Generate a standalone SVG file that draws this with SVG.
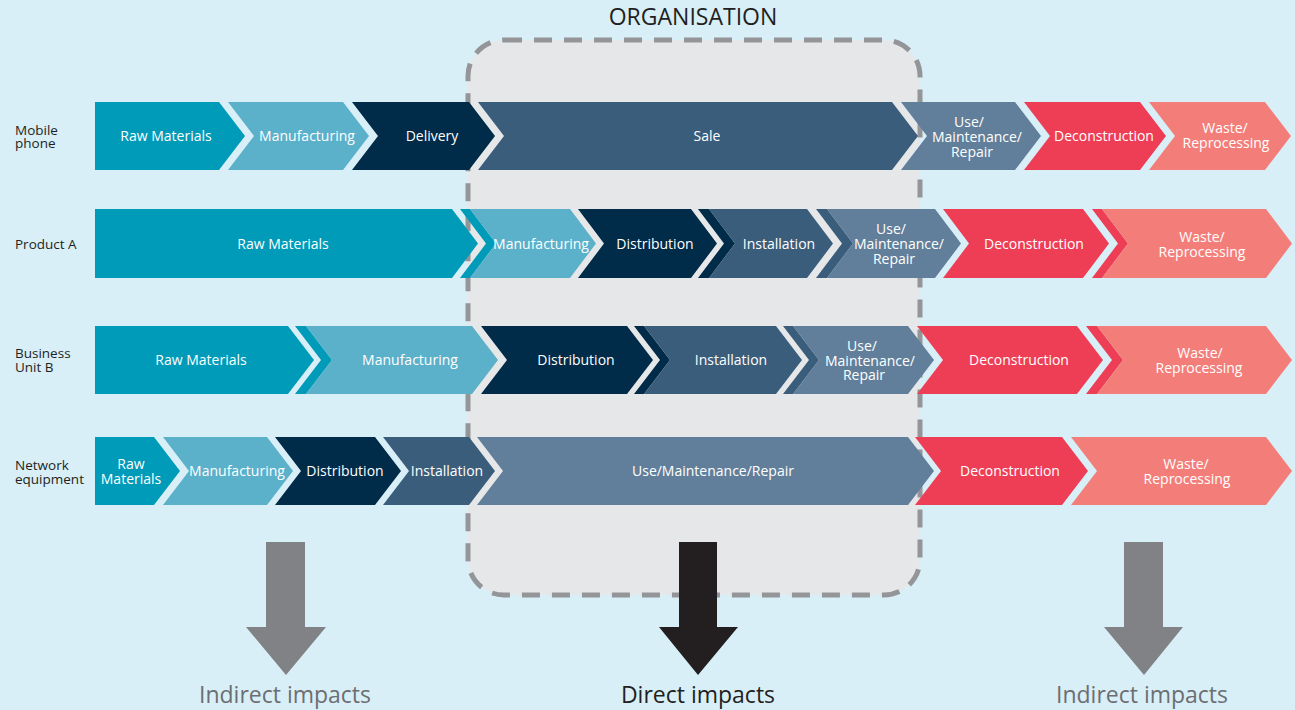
<svg xmlns="http://www.w3.org/2000/svg" width="1295" height="710" viewBox="0 0 1295 710">
  <style>
    .bg { fill: #D8EFF8; }
    .org { fill: #E6E7E8; stroke: #939598; stroke-width: 5; stroke-dasharray: 18 12; }
    .teal { fill: #009BB9; }
    .lblue { fill: #5BB0CA; }
    .navy { fill: #002B49; }
    .slate { fill: #3A5D7C; }
    .gblue { fill: #617F9B; }
    .red { fill: #EE3E56; }
    .salmon { fill: #F37E79; }
    .t { font-family: "Open Sans", "Liberation Sans", sans-serif; font-size: 14px; fill: #FFFFFF; text-anchor: middle; }
    .row { font-family: "Open Sans", "Liberation Sans", sans-serif; font-size: 13.5px; fill: #231F20; }
    .title { font-family: "Open Sans", "Liberation Sans", sans-serif; font-size: 23px; fill: #231F20; text-anchor: middle; }
    .ind { font-family: "Open Sans", "Liberation Sans", sans-serif; font-size: 23px; fill: #6D6E71; text-anchor: middle; }
    .dir { font-family: "Open Sans", "Liberation Sans", sans-serif; font-size: 23px; fill: #231F20; text-anchor: middle; }
    .arrow-ind { fill: #808285; }
    .arrow-dir { fill: #231F20; }
  </style>

  <rect class="bg" x="0" y="0" width="1295" height="710"/>

  <!-- organisation boundary -->
  <g id="organisation">
    <rect class="org" x="468" y="40" width="452" height="555" rx="36" ry="36"/>
    <text class="title" x="693" y="25">ORGANISATION</text>
  </g>

  <!-- row labels -->
  <g id="row-labels">
    <text class="row" x="15" y="135">Mobile</text>
    <text class="row" x="15" y="148">phone</text>
    <text class="row" x="15" y="249">Product A</text>
    <text class="row" x="15" y="358">Business</text>
    <text class="row" x="15" y="372">Unit B</text>
    <text class="row" x="15" y="470">Network</text>
    <text class="row" x="15" y="484">equipment</text>
  </g>

  <!-- Row 1: Mobile phone (y 102-170, mid 136) -->
  <g id="mobile-raw"><polygon class="teal" points="95,102 219,102 245,136 219,170 95,170"/><text class="t" x="166" y="141">Raw Materials</text></g>
  <g id="mobile-manufacturing"><polygon class="lblue" points="228,102 343,102 369,136 343,170 228,170 254,136"/><text class="t" x="307" y="141">Manufacturing</text></g>
  <g id="mobile-delivery"><polygon class="navy" points="352,102 469,102 495,136 469,170 352,170 378,136"/><text class="t" x="432" y="141">Delivery</text></g>
  <g id="mobile-sale"><polygon class="slate" points="478,102 892,102 918,136 892,170 478,170 504,136"/><text class="t" x="707" y="141">Sale</text></g>
  <g id="mobile-use"><polygon class="gblue" points="901,102 1015,102 1041,136 1015,170 901,170 927,136"/><text class="t" x="969" y="127">Use/</text><text class="t" x="977" y="142">Maintenance/</text><text class="t" x="972" y="157">Repair</text></g>
  <g id="mobile-deconstruction"><polygon class="red" points="1024,102 1140,102 1166,136 1140,170 1024,170 1050,136"/><text class="t" x="1104" y="141">Deconstruction</text></g>
  <g id="mobile-waste"><polygon class="salmon" points="1149,102 1265,102 1291,136 1265,170 1149,170 1175,136"/><text class="t" x="1225" y="133">Waste/</text><text class="t" x="1226" y="148">Reprocessing</text></g>

  <!-- Row 2: Product A (y 209-278, mid 243.5) -->
  <g id="producta-raw"><polygon class="teal" points="95,209 452,209 478,243.5 452,278 95,278"/><text class="t" x="283" y="249">Raw Materials</text></g>
  <g id="producta-manufacturing"><polygon class="teal" points="460,209 470,209 496,243.5 470,278 460,278 486,243.5"/><polygon class="lblue" points="470,209 570,209 596,243.5 570,278 470,278 496,243.5"/><text class="t" x="541" y="249">Manufacturing</text></g>
  <g id="producta-distribution"><polygon class="navy" points="578,209 691,209 717,243.5 691,278 578,278 604,243.5"/><text class="t" x="655" y="249">Distribution</text></g>
  <g id="producta-installation"><polygon class="navy" points="698,209 709,209 735,243.5 709,278 698,278 724,243.5"/><polygon class="slate" points="709,209 807,209 833,243.5 807,278 709,278 735,243.5"/><text class="t" x="779" y="249">Installation</text></g>
  <g id="producta-use"><polygon class="slate" points="816,209 827,209 853,243.5 827,278 816,278 842,243.5"/><polygon class="gblue" points="827,209 935,209 961,243.5 935,278 827,278 853,243.5"/><text class="t" x="891" y="234">Use/</text><text class="t" x="899" y="249">Maintenance/</text><text class="t" x="894" y="264">Repair</text></g>
  <g id="producta-deconstruction"><polygon class="red" points="943,209 1083,209 1109,243.5 1083,278 943,278 969,243.5"/><text class="t" x="1034" y="249">Deconstruction</text></g>
  <g id="producta-waste"><polygon class="red" points="1092,209 1102,209 1128,243.5 1102,278 1092,278 1118,243.5"/><polygon class="salmon" points="1102,209 1266,209 1292,243.5 1266,278 1102,278 1128,243.5"/><text class="t" x="1202" y="242">Waste/</text><text class="t" x="1202" y="257">Reprocessing</text></g>

  <!-- Row 3: Business Unit B (y 326-394, mid 360) -->
  <g id="unitb-raw"><polygon class="teal" points="95,326 288,326 314,360 288,394 95,394"/><text class="t" x="201" y="365">Raw Materials</text></g>
  <g id="unitb-manufacturing"><polygon class="teal" points="295,326 306,326 332,360 306,394 295,394 321,360"/><polygon class="lblue" points="306,326 472,326 498,360 472,394 306,394 332,360"/><text class="t" x="410" y="365">Manufacturing</text></g>
  <g id="unitb-distribution"><polygon class="navy" points="481,326 627,326 653,360 627,394 481,394 507,360"/><text class="t" x="576" y="365">Distribution</text></g>
  <g id="unitb-installation"><polygon class="navy" points="634,326 644,326 670,360 644,394 634,394 660,360"/><polygon class="slate" points="644,326 776,326 802,360 776,394 644,394 670,360"/><text class="t" x="731" y="365">Installation</text></g>
  <g id="unitb-use"><polygon class="slate" points="783,326 793,326 819,360 793,394 783,394 809,360"/><polygon class="gblue" points="793,326 908,326 934,360 908,394 793,394 819,360"/><text class="t" x="862" y="351">Use/</text><text class="t" x="870" y="366">Maintenance/</text><text class="t" x="864" y="380">Repair</text></g>
  <g id="unitb-deconstruction"><polygon class="red" points="917,326 1077,326 1103,360 1077,394 917,394 943,360"/><text class="t" x="1019" y="365">Deconstruction</text></g>
  <g id="unitb-waste"><polygon class="red" points="1086,326 1097,326 1123,360 1097,394 1086,394 1112,360"/><polygon class="salmon" points="1097,326 1266,326 1292,360 1266,394 1097,394 1123,360"/><text class="t" x="1200" y="358">Waste/</text><text class="t" x="1199" y="373">Reprocessing</text></g>

  <!-- Row 4: Network equipment (y 437-505, mid 471) -->
  <g id="network-raw"><polygon class="teal" points="95,437 154,437 180,471 154,505 95,505"/><text class="t" x="131" y="469">Raw</text><text class="t" x="131" y="484">Materials</text></g>
  <g id="network-manufacturing"><polygon class="lblue" points="163,437 267,437 293,471 267,505 163,505 189,471"/><text class="t" x="237" y="476">Manufacturing</text></g>
  <g id="network-distribution"><polygon class="navy" points="275,437 375,437 401,471 375,505 275,505 301,471"/><text class="t" x="345" y="476">Distribution</text></g>
  <g id="network-installation"><polygon class="slate" points="383,437 469,437 495,471 469,505 383,505 409,471"/><text class="t" x="447" y="476">Installation</text></g>
  <g id="network-use"><polygon class="gblue" points="477,437 908,437 934,471 908,505 477,505 503,471"/><text class="t" x="713" y="476">Use/Maintenance/Repair</text></g>
  <g id="network-deconstruction"><polygon class="red" points="915,437 1062,437 1088,471 1062,505 915,505 941,471"/><text class="t" x="1010" y="476">Deconstruction</text></g>
  <g id="network-waste"><polygon class="salmon" points="1071,437 1266,437 1292,471 1266,505 1071,505 1097,471"/><text class="t" x="1186" y="469">Waste/</text><text class="t" x="1187" y="484">Reprocessing</text></g>

  <!-- impact arrows -->
  <g id="connectors">
    <polygon class="arrow-ind" points="266,542 305,542 305,627 326,627 286,675 246,627 266,627"/>
    <polygon class="arrow-dir" points="679,542 717,542 717,627 738,627 698,675 659,627 679,627"/>
    <polygon class="arrow-ind" points="1124,542 1163,542 1163,627 1183,627 1144,675 1104,627 1124,627"/>
  </g>

  <g id="impact-labels">
    <text class="ind" x="285" y="703">Indirect impacts</text>
    <text class="dir" x="698" y="703">Direct impacts</text>
    <text class="ind" x="1142" y="703">Indirect impacts</text>
  </g>
</svg>
